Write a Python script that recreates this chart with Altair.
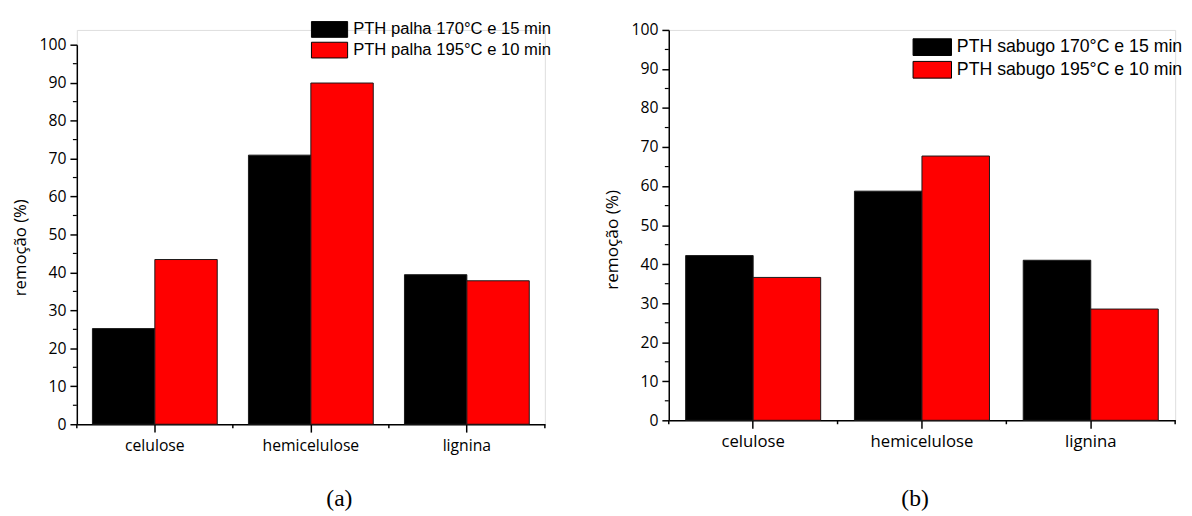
import altair as alt
import pandas as pd

categories = ["celulose", "hemicelulose", "lignina"]
series_a = ["PTH palha 170°C e 15 min", "PTH palha 195°C e 10 min"]
values_a_170 = [25.2, 70.9, 39.4]
values_a_195 = [43.4, 89.9, 37.8]
series_b = ["PTH sabugo 170°C e 15 min", "PTH sabugo 195°C e 10 min"]
values_b_170 = [42.2, 58.7, 41.0]
values_b_195 = [36.6, 67.7, 28.5]
y_major = [0, 10, 20, 30, 40, 50, 60, 70, 80, 90, 100]
y_minor = [5, 15, 25, 35, 45, 55, 65, 75, 85, 95]
bar_colors = ["#000000", "#ff0000"]

RECT = "M-2.3,-1L2.3,-1L2.3,1L-2.3,1Z"
AX_FONT = "Open Sans"


def panel(series, v1, v2, w, h, top, xlab, ylab, ytitle, title_y, leg, label, title_dx, title_off):
    df = pd.DataFrame({
        "categoria": categories * 2,
        "serie": [series[0]] * 3 + [series[1]] * 3,
        "valor": v1 + v2,
    })
    cats = pd.DataFrame({"categoria": categories})
    last_cat = pd.DataFrame({"categoria": categories[-1:]})
    minor = pd.DataFrame({"valor": y_minor})
    half_gap = 0.1 * w / 3

    x_scale = alt.Scale(domain=categories, paddingInner=0.2, paddingOuter=0.1)
    x_axis = alt.Axis(
        title=None, labelAngle=0, tickSize=8, tickWidth=1.5,
        tickColor="black", domainColor="black", domainWidth=1.5,
        labelFont=AX_FONT, labelFontSize=xlab, labelColor="black", labelPadding=6,
    )
    y_scale = alt.Scale(domain=[0, 100], nice=False, range=[h, top])
    y_axis = alt.Axis(
        title="remoção (%)", values=y_major, tickSize=7, tickWidth=1.5,
        tickColor="black", domainColor="black", domainWidth=1.5, grid=False,
        labelFont=AX_FONT, labelFontSize=ylab, labelColor="black", labelPadding=4,
        titleFont=AX_FONT, titleFontSize=ytitle, titleFontWeight="normal",
        titleColor="black", titlePadding=10, titleY=title_y,
    )
    x_enc = alt.X("categoria:N", sort=categories, scale=x_scale, axis=x_axis)
    y_enc = alt.Y("valor:Q", scale=y_scale, axis=y_axis)

    bars = alt.Chart(df).mark_bar(stroke="#1a1a1a", strokeWidth=1).encode(
        x=x_enc,
        xOffset=alt.XOffset("serie:N", sort=series,
                            scale=alt.Scale(domain=series, paddingInner=0, paddingOuter=0)),
        y=y_enc,
        color=alt.Color(
            "serie:N", sort=series,
            scale=alt.Scale(domain=series, range=bar_colors),
            legend=alt.Legend(
                title=None, orient="none", legendX=leg["x"], legendY=leg["y"],
                symbolType=RECT, symbolSize=leg["size"], symbolStrokeColor="black",
                symbolStrokeWidth=1, symbolOpacity=1, labelOffset=leg["lo"],
                labelFont="Liberation Sans", labelFontSize=leg["fs"], labelColor="black",
                labelLimit=400, rowPadding=leg["rp"], padding=0,
            ),
        ),
    )
    minor_ticks = alt.Chart(minor).mark_rule(color="black", strokeWidth=1.2).encode(
        y=y_enc, x=alt.value(-4), x2=alt.value(0)
    )
    start_ticks = alt.Chart(cats).mark_rule(color="black", strokeWidth=1.5, xOffset=-half_gap).encode(
        x=alt.X("categoria:N", sort=categories, scale=x_scale, axis=x_axis, bandPosition=0),
        y=alt.value(h), y2=alt.value(h + 4),
    )
    end_tick = alt.Chart(last_cat).mark_rule(color="black", strokeWidth=1.5, xOffset=half_gap).encode(
        x=alt.X("categoria:N", sort=categories, scale=x_scale, axis=x_axis, bandPosition=1),
        y=alt.value(h), y2=alt.value(h + 4),
    )
    return alt.layer(bars, minor_ticks, start_ticks, end_tick).properties(
        width=w, height=h,
        title=alt.TitleParams(
            label, orient="bottom", anchor="middle", font="Liberation Serif",
            fontSize=24, fontWeight="normal", color="black", dx=title_dx, offset=title_off,
        ),
    )


left = panel(series_a, values_a_170, values_a_195, 476, 401, 15, 16, 16, 17, 221,
             {"x": 248.5, "y": -9, "size": 256, "lo": 15.5, "fs": 16.9, "rp": 0},
             "(a)", 29, 34)
right = panel(series_b, values_b_170, values_b_195, 515, 397, 0, 17, 16, 17.5, 213,
              {"x": 259, "y": 8.5, "size": 289, "lo": 16, "fs": 18, "rp": 1},
              "(b)", -7, 38)

chart = alt.hconcat(left, right, spacing=52).resolve_scale(
    color="independent", xOffset="independent", x="independent", y="independent"
).properties(
    padding={"left": 3, "top": 8, "right": 0, "bottom": 0}
).configure_view(stroke=None).configure(background="white")

chart.save("out.html", embed_options={"renderer": "svg", "actions": False})
